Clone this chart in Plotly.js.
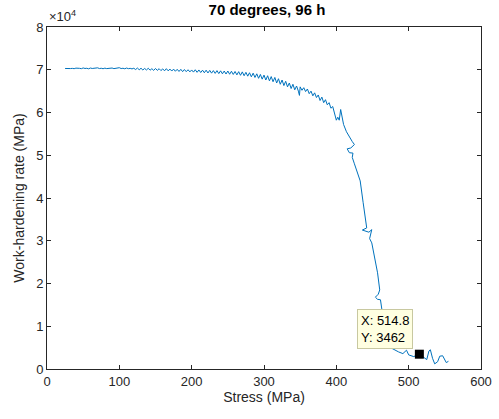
<!DOCTYPE html>
<html>
<head>
<meta charset="utf-8">
<script src="https://cdn.plot.ly/plotly-3.0.1.min.js"></script>
<style>html,body{margin:0;padding:0;background:#fff;}#chart{width:499px;height:419px;}</style>
</head>
<body>
<div id="chart"></div>
<script>
const stress = [
  25,27.5,30,32.5,35,37.5,40,42.5,45,47.5,50,52.5,55,57.5,60,62.5,65,67.5,70,72.5,75,77.5,80,82.5,85,87.5,90,92.5,95,97.5,100,102.5,105,107.5,110,112.5,115,117.5,120,
  122.5,125,127.5,130,132.5,135,137.5,140,142.5,145,147.5,150,152.5,155,157.5,160,162.5,165,167.5,170,172.5,175,177.5,180,182.5,185,187.5,190,192.5,195,197.5,200,
  202.5,205,207.5,210,212.5,215,217.5,220,222.5,225,227.5,230,232.5,235,237.5,240,242.5,245,247.5,250,252.5,255,257.5,260,262.5,265,267.5,270,272.5,275,277.5,280,282.5,285,287.5,290,292.5,295,297.5,300,
  302.5,305,307.5,310,312.5,315,317.5,320,322.5,325,327.5,330,332.5,335,337.5,340,342.5,345,347.5,
  349,350,352.5,355,357.5,360,362.5,365,367.5,370,372.5,375,377.5,380,382.5,385,387.5,390,392.5,395,398,
  400,402,404,406,408,410,414,418,422,425,420,415,418,423,422,425,428,433,437,440,442,436,440,445,449,446,449,452,455,457,460,458,454,457,461,464,467,470,473,476,480,486,492,497,500,507,514.8,520,525,528,530,533,536,540,543,547,550,552,555];
const rate = [
  70300,70250,70350,70280,70320,70250,70380,70270,70330,70250,70420,70300,70350,70220,70400,70300,70350,70250,70450,70280,70350,70240,70380,70270,70330,70220,70400,70260,70330,70250,70480,70280,70350,70230,70400,70250,70330,70200,70350,
  70050,70400,70000,70350,69950,70300,69950,70350,69900,70250,69850,70300,69850,70250,69800,70200,69750,70250,69750,70150,69700,70150,69650,70100,69600,70100,69550,70050,69550,70000,69500,69950,
  69450,70000,69400,69950,69350,69900,69300,69900,69250,69850,69200,69800,69150,69800,69100,69750,69050,69700,69000,69700,68950,69650,68900,69600,68800,69550,68700,69500,68600,69400,68500,69300,68350,69200,68200,69050,68000,68900,67800,68750,
  67600,68600,67400,68400,67200,68200,66900,67900,66600,67600,66300,67300,66000,66900,65600,66600,65300,66200,65000,
  64000,66000,65200,65800,64900,65500,64400,65000,63900,64600,63500,64100,62800,63600,62300,63000,61800,62300,61000,61400,59500,
  58200,58900,58200,60700,59000,57200,55500,54200,53200,52500,51700,51500,50600,50500,49500,48000,46500,44000,39000,35000,33000,32500,32300,32000,32600,30500,29500,27000,24500,22500,18500,17500,16800,16300,16200,12500,9200,7000,5700,4900,4500,4000,3600,4400,3300,2900,3462,2800,2200,4200,4500,2500,1200,1700,3000,3100,2000,1500,1800];
const tipX = [514.8];
const tipY = [3462];
const xTicks = [0,100,200,300,400,500,600];
const yTickVals = [0,10000,20000,30000,40000,50000,60000,70000,80000];
const yTickText = ['0','1','2','3','4','5','6','7','8'];

const font = {family: 'Liberation Sans, Arial, Helvetica, sans-serif', color: '#262626'};
const traces = [
  {x: stress, y: rate, type: 'scatter', mode: 'lines', line: {color: '#0072BD', width: 1}, hoverinfo: 'skip'},
  {x: tipX, y: tipY, type: 'scatter', mode: 'markers', marker: {symbol: 'square', color: '#000', size: 9}, hoverinfo: 'skip'}
];
const layout = {
  width: 499, height: 419,
  margin: {l: 47, r: 18, t: 27, b: 50},
  paper_bgcolor: '#fff', plot_bgcolor: '#fff',
  showlegend: false,
  font: Object.assign({size: 13}, font),
  title: {text: '<b>70 degrees, 96 h</b>', x: 0.535, xanchor: 'center', y: 0.99, yanchor: 'top', font: Object.assign({size: 15}, font, {color: '#000'})},
  xaxis: {
    range: [0, 600], tickvals: xTicks, ticktext: xTicks.map(String),
    showgrid: false, zeroline: false, showline: true, linecolor: '#262626', linewidth: 1,
    mirror: 'ticks', ticks: 'inside', ticklen: 4, tickcolor: '#262626',
    tickfont: Object.assign({size: 13}, font),
    title: {text: 'Stress (MPa)', font: Object.assign({size: 14}, font), standoff: 3}
  },
  yaxis: {
    range: [0, 80000], tickvals: yTickVals, ticktext: yTickText,
    showgrid: false, zeroline: false, showline: true, linecolor: '#262626', linewidth: 1,
    mirror: 'ticks', ticks: 'inside', ticklen: 4, tickcolor: '#262626',
    tickfont: Object.assign({size: 13}, font),
    title: {text: 'Work-hardening rate (MPa)', font: Object.assign({size: 14}, font), standoff: 8}
  },
  annotations: [
    {xref: 'paper', yref: 'paper', x: 0, y: 1, xanchor: 'left', yanchor: 'bottom', yshift: 1, showarrow: false,
     text: '×10<sup>4</sup>', font: Object.assign({size: 13}, font)},
    {x: tipX[0], y: tipY[0], xref: 'x', yref: 'y', showarrow: false, xanchor: 'right', yanchor: 'bottom', xshift: -6, yshift: 5,
     align: 'left', text: 'X: 514.8<br>Y: 3462', bgcolor: '#FFFFE1', bordercolor: '#C8C8A0', borderwidth: 1, borderpad: 3,
     font: Object.assign({size: 13}, font, {color: '#000'})}
  ]
};
Plotly.newPlot('chart', traces, layout, {displayModeBar: false, staticPlot: true});
</script>
</body>
</html>
